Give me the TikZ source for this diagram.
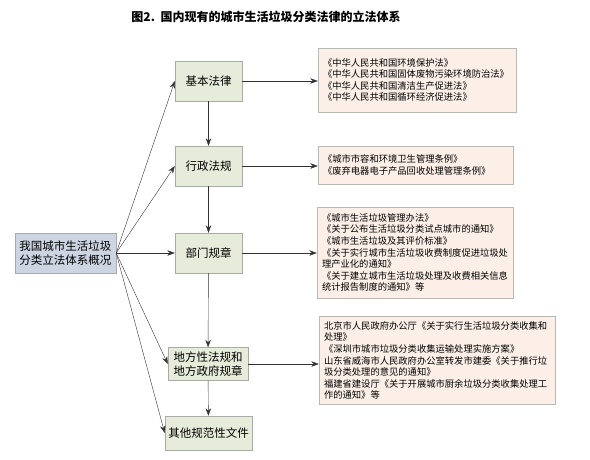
\documentclass[tikz,border=0pt]{standalone}
\usepackage{fontspec}
\setmainfont{Noto Sans CJK SC}
\usepackage{tikz}
\usetikzlibrary{arrows.meta}
\definecolor{leftfill}{HTML}{CDD5E3}
\definecolor{midfill}{HTML}{E7EBDA}
\definecolor{lawfill}{HTML}{FBEFE7}
\definecolor{boxline}{HTML}{A8ABA6}
\tikzstyle{overview} = [rectangle, draw=boxline, fill=leftfill, minimum width=101pt, minimum height=40pt, align=center, font=\fontsize{11.5}{14}\selectfont]
\tikzstyle{level} = [rectangle, draw=boxline, fill=midfill, minimum height=40pt, align=center, font=\fontsize{11.5}{14}\selectfont]
\tikzstyle{laws} = [rectangle, draw=boxline!80!lawfill, fill=lawfill, inner sep=5pt, align=left, font=\fontsize{9.3}{11.6}\selectfont]
\tikzstyle{arrow} = [draw=black!80, -{Stealth[length=7.5pt,width=5.5pt]}]

\begin{document}
\begin{tikzpicture}[x=1pt, y=-1pt]
\useasboundingbox (0,0) rectangle (590,460);

\node (title) at (266,17) {\fontsize{12}{14}\selectfont\bfseries 图2.\ \ 国内现有的城市生活垃圾分类法律的立法体系};

\node (all) [overview] at (65.5,253) {我国城市生活垃圾\\分类立法体系概况};

\node (basic) [level, minimum width=67pt] at (208.5,81) {基本法律};
\node (admin) [level, minimum width=67pt] at (208.5,166) {行政法规};
\node (dept) [level, minimum width=67pt] at (208.5,253) {部门规章};
\node (local) [level, minimum width=80pt, minimum height=33pt] at (208,364) {地方性法规和\\地方政府规章};
\node (other) [level, minimum width=85pt, minimum height=34pt] at (208.5,433) {其他规范性文件};

\node (lawA) [laws, text width=188pt, minimum height=64pt] at (417,80) {《中华人民共和国环境保护法》\\《中华人民共和国固体废物污染环境防治法》\\《中华人民共和国清洁生产促进法》\\《中华人民共和国循环经济促进法》};
\node (lawB) [laws, text width=185pt, minimum height=38pt] at (415.5,165) {《城市市容和环境卫生管理条例》\\《废弃电器电子产品回收处理管理条例》};
\node (lawC) [laws, text width=186pt, minimum height=91pt] at (415,252.5) {《城市生活垃圾管理办法》\\《关于公布生活垃圾分类试点城市的通知》\\《城市生活垃圾及其评价标准》\\《关于实行城市生活垃圾收费制度促进垃圾处\\理产业化的通知》\\《关于建立城市生活垃圾处理及收费相关信息\\统计报告制度的通知》等};
\node (lawD) [laws, text width=226pt, minimum height=81pt] at (437,360.5) {北京市人民政府办公厅《关于实行生活垃圾分类收集和\\处理》\\《深圳市城市垃圾分类收集运输处理实施方案》\\山东省威海市人民政府办公室转发市建委《关于推行垃\\圾分类处理的意见的通知》\\福建省建设厅《关于开展城市厨余垃圾分类收集处理工\\作的通知》等};

\draw [arrow] (all.east) -- (basic.west);
\draw [arrow] (all.east) -- (admin.west);
\draw [arrow] (all.east) -- (dept.west);
\draw [arrow] (all.east) -- (local.west);
\draw [arrow] (all.east) -- (other.west);

\draw [arrow] (basic) -- (admin);
\draw [arrow] (admin) -- (dept);
\draw [arrow] (dept) -- (local);
\draw [arrow] (local) -- (other);

\draw [arrow] (basic.east) -- (basic.east -| lawA.west);
\draw [arrow] (admin.east) -- (admin.east -| lawB.west);
\draw [arrow] (dept.east) -- (dept.east -| lawC.west);
\draw [arrow] (local.east) -- (local.east -| lawD.west);

\end{tikzpicture}
\end{document}
